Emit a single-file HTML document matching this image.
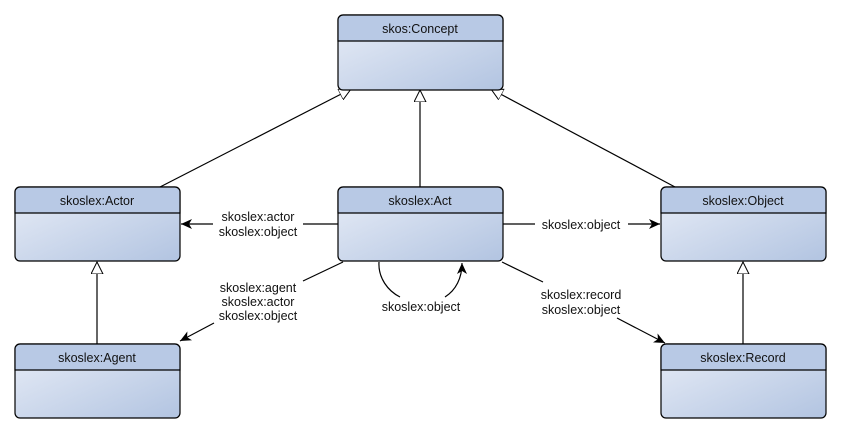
<!DOCTYPE html>
<html><head><meta charset="utf-8"><style>
html,body{margin:0;padding:0;background:#fff;}
svg{display:block;}
text{font-family:"Liberation Sans",sans-serif;font-size:12.5px;fill:#111;}
</style></head><body>
<svg width="841" height="432" viewBox="0 0 841 432" xmlns="http://www.w3.org/2000/svg">
<defs>
<linearGradient id="g" x1="0" y1="0" x2="1" y2="1">
<stop offset="0" stop-color="#e8edf7"/><stop offset="1" stop-color="#b2c4e1"/>
</linearGradient>
<marker id="tri" markerWidth="14" markerHeight="14" refX="12" refY="6" orient="auto" markerUnits="userSpaceOnUse">
<path d="M0,0 L12,6 L0,12 Z" fill="#fff" stroke="#000" stroke-width="1"/>
</marker>
<marker id="arr" markerWidth="12" markerHeight="10" refX="11" refY="5" orient="auto" markerUnits="userSpaceOnUse">
<path d="M0,0 L11,5 L0,10 L3,5 Z" fill="#000"/>
</marker>
</defs>
<g stroke="#000" stroke-width="1.2" fill="none">
<line x1="160" y1="187" x2="351" y2="89" marker-end="url(#tri)"/>
<line x1="420" y1="187" x2="420" y2="90" marker-end="url(#tri)"/>
<line x1="675" y1="187" x2="491" y2="89" marker-end="url(#tri)"/>
<line x1="97" y1="344" x2="97" y2="262" marker-end="url(#tri)"/>
<line x1="743" y1="344" x2="743" y2="262" marker-end="url(#tri)"/>
<line x1="338" y1="224" x2="303" y2="224"/>
<line x1="213" y1="224" x2="181" y2="224" marker-end="url(#arr)"/>
<line x1="503" y1="224" x2="535" y2="224"/>
<line x1="628" y1="224" x2="660" y2="224" marker-end="url(#arr)"/>
<line x1="343" y1="262" x2="303" y2="281"/>
<line x1="214" y1="323" x2="180" y2="341" marker-end="url(#arr)"/>
<line x1="502" y1="262" x2="543" y2="282"/>
<line x1="617" y1="318" x2="665" y2="343" marker-end="url(#arr)"/>
<path d="M379,262 C378,278 388,291 400,297"/>
<path d="M445,297 C456,290 462,278 462,263" marker-end="url(#arr)"/>
</g>
<g stroke="#000" stroke-width="1.2">
<rect x="338" y="15" width="165" height="75" rx="5" fill="url(#g)"/>
<path d="M338,41 V20 a5,5 0 0 1 5,-5 H498 a5,5 0 0 1 5,5 V41 Z" fill="#b8c9e5"/>
<rect x="15" y="187" width="165" height="74" rx="5" fill="url(#g)"/>
<path d="M15,213 V192 a5,5 0 0 1 5,-5 H175 a5,5 0 0 1 5,5 V213 Z" fill="#b8c9e5"/>
<rect x="338" y="187" width="165" height="74" rx="5" fill="url(#g)"/>
<path d="M338,213 V192 a5,5 0 0 1 5,-5 H498 a5,5 0 0 1 5,5 V213 Z" fill="#b8c9e5"/>
<rect x="661" y="187" width="165" height="74" rx="5" fill="url(#g)"/>
<path d="M661,213 V192 a5,5 0 0 1 5,-5 H821 a5,5 0 0 1 5,5 V213 Z" fill="#b8c9e5"/>
<rect x="15" y="344" width="165" height="74" rx="5" fill="url(#g)"/>
<path d="M15,370 V349 a5,5 0 0 1 5,-5 H175 a5,5 0 0 1 5,5 V370 Z" fill="#b8c9e5"/>
<rect x="661" y="344" width="165" height="74" rx="5" fill="url(#g)"/>
<path d="M661,370 V349 a5,5 0 0 1 5,-5 H821 a5,5 0 0 1 5,5 V370 Z" fill="#b8c9e5"/>
</g>
<g text-anchor="middle">
<text x="420" y="33">skos:Concept</text>
<text x="97" y="205">skoslex:Actor</text>
<text x="420" y="205">skoslex:Act</text>
<text x="743" y="205">skoslex:Object</text>
<text x="97" y="362">skoslex:Agent</text>
<text x="743" y="362">skoslex:Record</text>
<text x="258" y="221">skoslex:actor</text>
<text x="258" y="236">skoslex:object</text>
<text x="581" y="229">skoslex:object</text>
<text x="258" y="292">skoslex:agent</text>
<text x="258" y="306">skoslex:actor</text>
<text x="258" y="320">skoslex:object</text>
<text x="581" y="299">skoslex:record</text>
<text x="581" y="314">skoslex:object</text>
<text x="421" y="311">skoslex:object</text>
</g>
</svg>
</body></html>
